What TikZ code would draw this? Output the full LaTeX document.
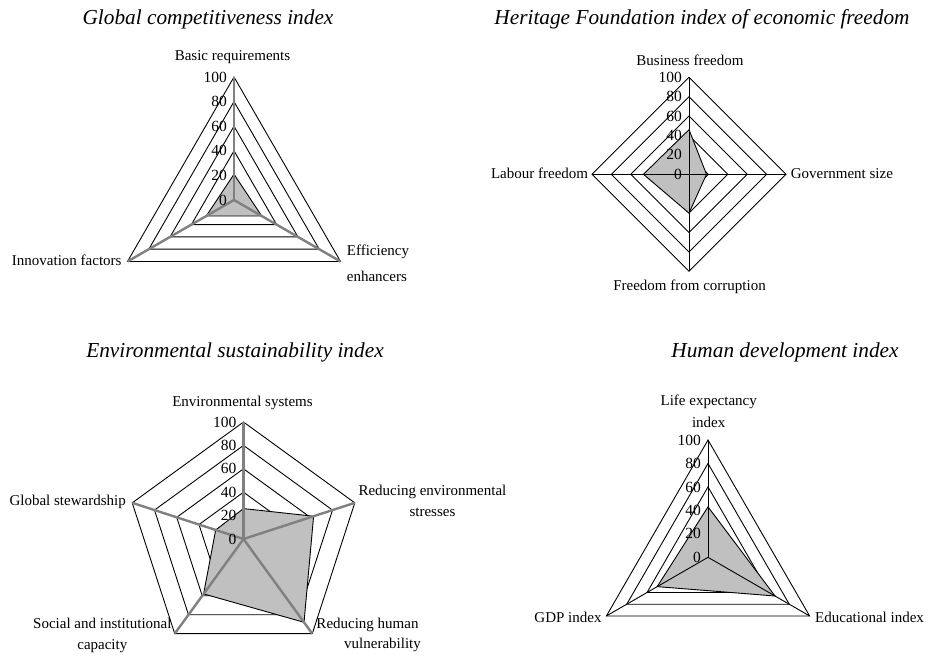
\documentclass[tikz,border=0pt]{standalone}
\usepackage{fontspec}
\setmainfont{Liberation Serif}
\definecolor{areagrey}{RGB}{192,192,192}
\definecolor{spokegrey}{RGB}{128,128,128}

\begin{document}
\begin{tikzpicture}[x=1pt, y=1pt]
  \tikzstyle{ring} = [draw=black, line width=0.9pt, line join=miter]
  \tikzstyle{spoke} = [draw=black, line width=0.9pt]
  \tikzstyle{thickspoke} = [draw=spokegrey, line width=2.4pt]
  \tikzstyle{area} = [fill=areagrey, draw=black, line width=0.9pt]
  \tikzstyle{tick} = [anchor=east, inner sep=0, font=\fontsize{15.5}{18}\selectfont]
  \tikzstyle{lbl} = [inner sep=0, font=\fontsize{15}{18}\selectfont]
  \tikzstyle{title} = [anchor=base, inner sep=0, font=\fontsize{21.3}{25}\selectfont\itshape]
  \useasboundingbox (0,0) rectangle (936,657);

  \node[title] (gci-title) at (208,632) {Global competitiveness index};
  \node[title] (hfi-title) at (702,632) {Heritage Foundation index of economic freedom};
  \node[title] (esi-title) at (235,300) {Environmental sustainability index};
  \node[title] (hdi-title) at (785,300) {Human development index};

  % global competitiveness
  \begin{scope}[shift={(234,457)}]
    \coordinate (gci) at (0,0);
    \foreach \k in {20,40,...,100}
      \draw[ring] (90:1.23*\k) -- (210:1.23*\k) -- (330:1.23*\k) -- cycle;
    \filldraw[area] (90:1.23*21) -- (210:1.23*26) -- (330:1.23*26) -- cycle;
    \foreach \a in {90,210,330}
      \draw[thickspoke] (gci) -- (\a:123);
    \foreach \k in {0,20,...,100}
      \node[tick] (gci-t\k) at (-7,1.23*\k) {\k};
    \node[lbl] (basic) at (-1.5,143) {Basic requirements};
    \node[lbl, anchor=east] (innov) at (-112.3,-60) {Innovation factors};
    \node[lbl, anchor=west, align=left, font=\fontsize{15}{26}\selectfont] (effic) at (112.7,-63.5) {Efficiency\\enhancers};
  \end{scope}

  % economic freedom
  \begin{scope}[shift={(689,482.7)}]
    \coordinate (hfi) at (0,0);
    \foreach \k in {20,40,...,100}
      \draw[ring] (90:0.97*\k) -- (0:0.97*\k) -- (270:0.97*\k) -- (180:0.97*\k) -- cycle;
    \filldraw[area] (90:0.97*46) -- (0:0.97*18) -- (270:0.97*40) -- (180:0.97*47) -- cycle;
    \foreach \a in {0,90,180,270}
      \draw[spoke] (hfi) -- (\a:97);
    \foreach \k in {0,20,...,100}
      \node[tick] (hfi-t\k) at (-7,0.97*\k) {\k};
    \node[lbl] (business) at (1,113.6) {Business freedom};
    \node[lbl, anchor=west] (govsize) at (101.7,1) {Government size};
    \node[lbl, anchor=east] (labour) at (-100.7,1.3) {Labour freedom};
    \node[lbl] (corrupt) at (0.5,-112.4) {Freedom from corruption};
  \end{scope}

  % environmental sustainability
  \begin{scope}[shift={(243.5,118)}]
    \coordinate (esi) at (0,0);
    \foreach \k in {20,40,...,100}
      \draw[ring] (90:1.17*\k) -- (18:1.17*\k) -- (-54:1.17*\k) -- (234:1.17*\k) -- (162:1.17*\k) -- cycle;
    \filldraw[area] (90:1.17*26) -- (18:1.17*63) -- (-54:1.17*88) -- (234:1.17*58) -- (162:1.17*25) -- cycle;
    \foreach \a in {90,18,-54,234,162}
      \draw[thickspoke] (esi) -- (\a:117);
    \foreach \k in {0,20,...,100}
      \node[tick] (esi-t\k) at (-7,1.17*\k) {\k};
    \node[lbl] (envsys) at (-1,136.3) {Environmental systems};
    \node[lbl, anchor=west, align=center, font=\fontsize{15}{21}\selectfont] (stress) at (114.8,38) {Reducing environmental\\stresses};
    \node[lbl, anchor=west, align=center, font=\fontsize{15}{20}\selectfont] (vulner) at (70.5,-96) {Reducing human\\\hspace*{30pt}vulnerability};
    \node[lbl, anchor=east, align=center, font=\fontsize{15}{21}\selectfont] (social) at (-71.8,-96) {Social and institutional\\capacity};
    \node[lbl, anchor=east] (steward) at (-117.5,37.3) {Global stewardship};
  \end{scope}

  % human development
  \begin{scope}[shift={(708,99.7)}]
    \coordinate (hdi) at (0,0);
    \foreach \k in {20,40,...,100}
      \draw[ring] (90:1.173*\k) -- (330:1.173*\k) -- (210:1.173*\k) -- cycle;
    \filldraw[area] (90:1.173*43) -- (330:1.173*66) -- (210:1.173*50) -- cycle;
    \foreach \a in {90,210,330}
      \draw[spoke] (hdi) -- (\a:117.3);
    \foreach \k in {0,20,...,100}
      \node[tick] (hdi-t\k) at (-7,1.173*\k) {\k};
    \node[lbl, align=center, font=\fontsize{15}{21.7}\selectfont] (life) at (0.7,146.3) {Life expectancy\\index};
    \node[lbl, anchor=east] (gdp) at (-106.3,-60) {GDP index};
    \node[lbl, anchor=west] (educ) at (107,-60) {Educational index};
  \end{scope}
\end{tikzpicture}
\end{document}
